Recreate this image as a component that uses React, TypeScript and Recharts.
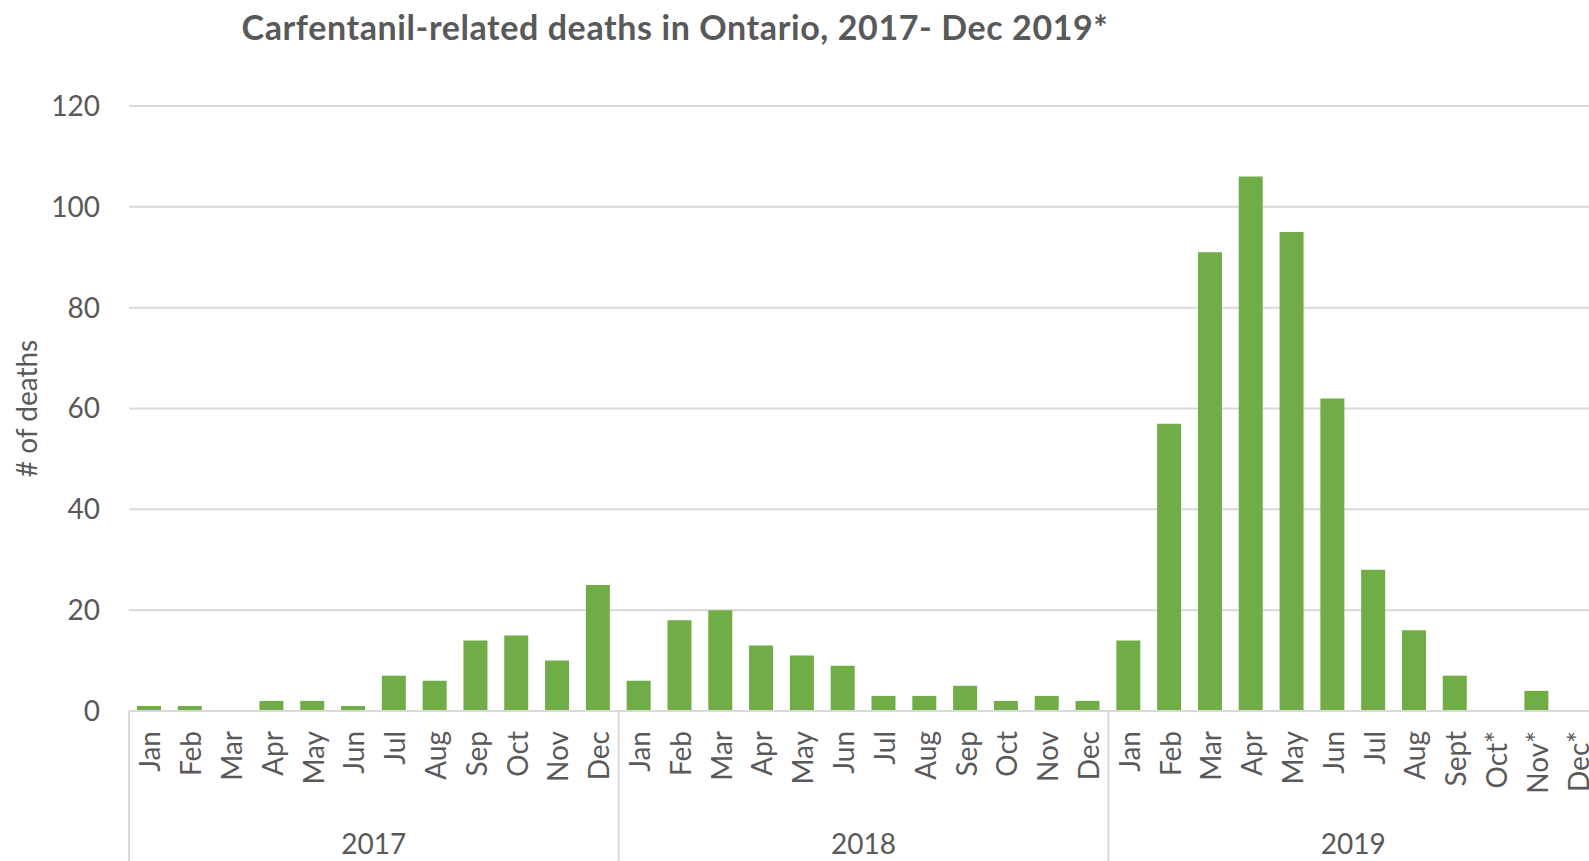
import React from 'react';
import { BarChart, Bar, XAxis, YAxis, CartesianGrid, Label } from 'recharts';

const years = ['2017', '2018', '2019'];
const monthLabels2017 = ['Jan', 'Feb', 'Mar', 'Apr', 'May', 'Jun', 'Jul', 'Aug', 'Sep', 'Oct', 'Nov', 'Dec'];
const monthLabels2018 = ['Jan', 'Feb', 'Mar', 'Apr', 'May', 'Jun', 'Jul', 'Aug', 'Sep', 'Oct', 'Nov', 'Dec'];
const monthLabels2019 = ['Jan', 'Feb', 'Mar', 'Apr', 'May', 'Jun', 'Jul', 'Aug', 'Sept', 'Oct*', 'Nov*', 'Dec*'];

const deaths2017 = [1, 1, 0, 2, 2, 1, 7, 6, 14, 15, 10, 25];
const deaths2018 = [6, 18, 20, 13, 11, 9, 3, 3, 5, 2, 3, 2];
const deaths2019 = [14, 57, 91, 106, 95, 62, 28, 16, 7, 0, 4, 0];

const yTicks = [0, 20, 40, 60, 80, 100, 120];

const TEXT = '#595959';
const LINE = '#D9D9D9';
const FONT = 'Lato, "Open Sans", sans-serif';

// one row per month, tagged with its year so the two-level axis can be drawn
const monthsByYear = [monthLabels2017, monthLabels2018, monthLabels2019];
const deathsByYear = [deaths2017, deaths2018, deaths2019];
const rows = years.flatMap((year, yi) =>
  monthsByYear[yi].map((month, mi) => ({
    key: `${year}-${mi}`,
    year,
    month,
    deaths: deathsByYear[yi][mi],
  }))
);

const MonthTick = (props: any) => {
  const { x, y, payload, index } = props;
  const i = typeof index === 'number' ? index : payload.index;
  const row = rows[i];
  const half = payload.offset ?? 20;
  const monthsPerYear = 12;
  const isFirst = i % monthsPerYear === 0;
  const isLast = i === rows.length - 1;
  const isMid = i % monthsPerYear === monthsPerYear / 2 - 1;
  return (
    <g>
      <text
        transform={`translate(${x},${y + 20}) rotate(-90)`}
        textAnchor="end"
        dominantBaseline="central"
        fill={TEXT}
        fontSize={28}
        fontFamily={FONT}
      >
        {row.month}
      </text>
      {isFirst && (
        <line x1={x - half} x2={x - half} y1={y} y2={y + 200} stroke={LINE} strokeWidth={2} />
      )}
      {isLast && (
        <line x1={x + half} x2={x + half} y1={y} y2={y + 200} stroke={LINE} strokeWidth={2} />
      )}
      {isMid && (
        <text
          x={x + half}
          y={y + 132}
          textAnchor="middle"
          dominantBaseline="central"
          fill={TEXT}
          fontSize={28}
          fontFamily={FONT}
        >
          {row.year}
        </text>
      )}
    </g>
  );
};

const YTitle = (props: any) => {
  const vb = props.viewBox || { x: 0, y: 105, width: 129, height: 606 };
  const cx = vb.x + 26;
  const cy = vb.y + vb.height / 2;
  return (
    <text
      transform={`translate(${cx},${cy}) rotate(-90)`}
      textAnchor="middle"
      dominantBaseline="central"
      fill={TEXT}
      fontSize={28}
      fontFamily={FONT}
    >
      # of deaths
    </text>
  );
};

export default function App() {
  return (
    <div
      style={{
        position: 'fixed',
        left: 0,
        top: 0,
        width: 1589,
        height: 861,
        overflow: 'hidden',
        background: '#fff',
      }}
    >
      <div
        style={{
          position: 'absolute',
          left: 0,
          top: 6,
          width: 1350,
          textAlign: 'center',
          fontFamily: FONT,
          fontWeight: 700,
          fontSize: 34,
          letterSpacing: 0.6,
          lineHeight: '42px',
          color: TEXT,
        }}
      >
        Carfentanil-related deaths in Ontario, 2017- Dec 2019*
      </div>
      <BarChart
        width={1600}
        height={900}
        data={rows}
        margin={{ top: 106, right: 2, bottom: 0, left: 0 }}
        barSize={24}
      >
        <CartesianGrid vertical={false} stroke={LINE} strokeWidth={2} />
        <XAxis
          dataKey="key"
          interval={0}
          height={189}
          tickSize={0}
          tickMargin={0}
          tickLine={false}
          axisLine={{ stroke: LINE, strokeWidth: 2 }}
          tick={<MonthTick />}
        />
        <YAxis
          width={129}
          domain={[0, 120]}
          ticks={yTicks}
          interval={0}
          axisLine={false}
          tickLine={false}
          tickSize={0}
          tickMargin={29}
          tick={{ fill: TEXT, fontSize: 28, fontFamily: FONT }}
        >
          <Label content={<YTitle />} />
        </YAxis>
        <Bar dataKey="deaths" fill="#70AD47" isAnimationActive={false} />
      </BarChart>
    </div>
  );
}
